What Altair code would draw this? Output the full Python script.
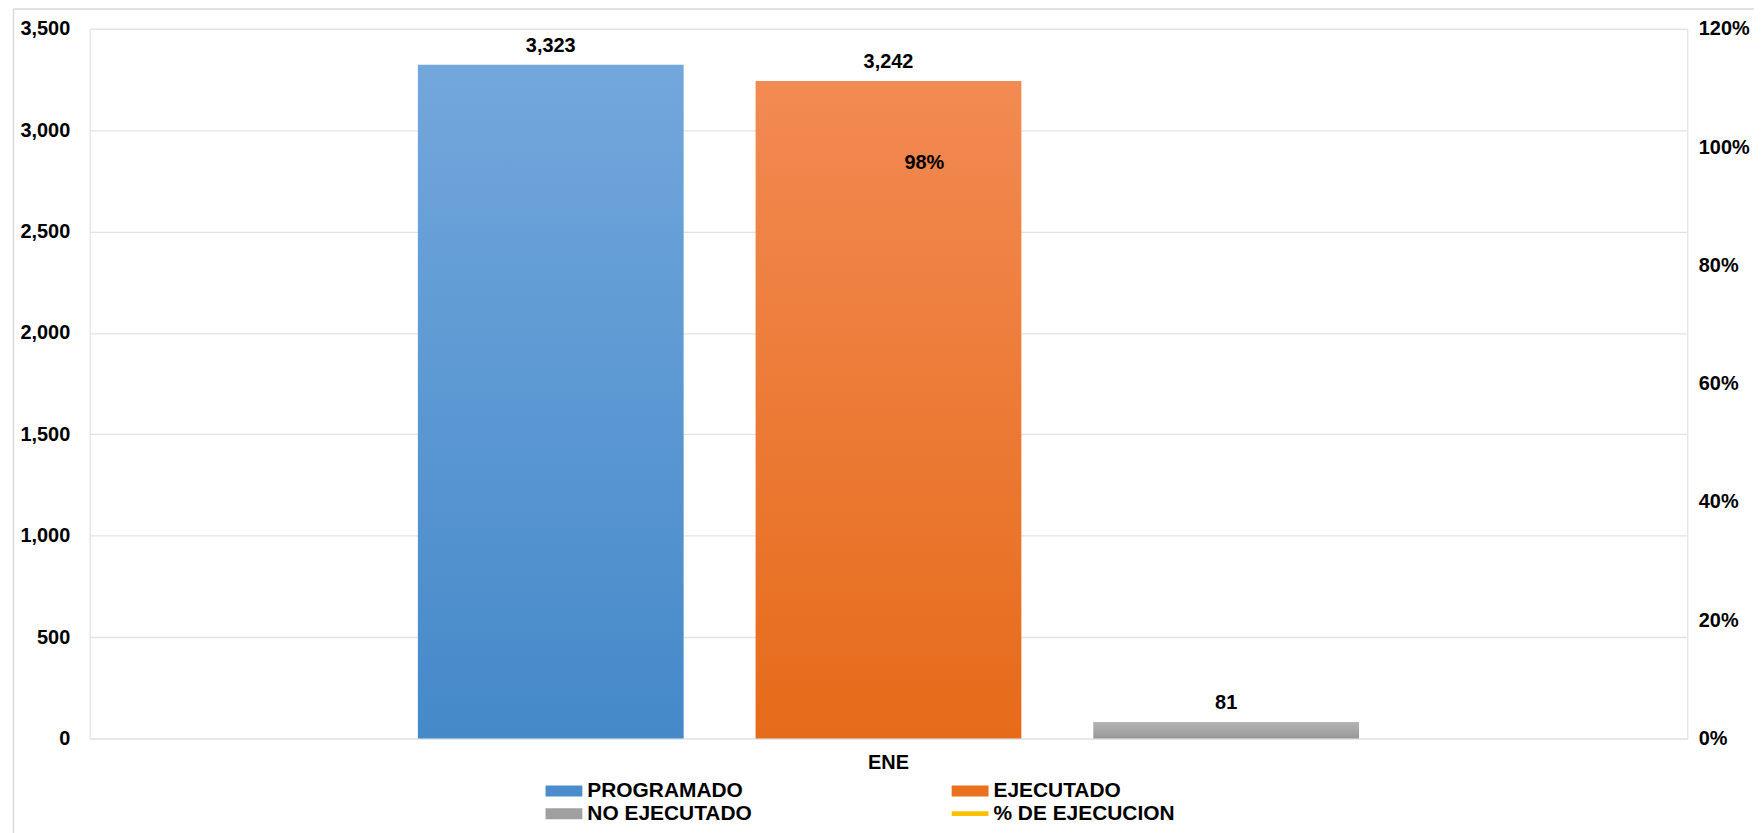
import altair as alt
import pandas as pd

# ---------------- data ----------------
meses = ["ENE"]
programado = [3323]
ejecutado = [3242]
no_ejecutado = [81]
pct_ejecucion = [0.98]

series = ["PROGRAMADO", "EJECUTADO", "NO EJECUTADO"]
legend_names = series + ["% DE EJECUCION"]
legend_colors = ["#4a8ccc", "#e8701f", "#a0a0a0", "#ffc000"]
grad_top = ["#72a7dc", "#f28a53", "#b4b4b4"]
grad_bottom = ["#4589c9", "#e66b19", "#989898"]

rows = []
for i, m in enumerate(meses):
    for s, v in zip(series, [programado[i], ejecutado[i], no_ejecutado[i]]):
        rows.append({"mes": m, "serie": s, "valor": v})
bars_df = pd.DataFrame(rows)
pct_df = pd.DataFrame({"mes": meses, "pct": pct_ejecucion})

FONT = "Liberation Sans, Arial, sans-serif"
GRID = "#dfe3e8"

x = alt.X("mes:N", title=None,
          scale=alt.Scale(paddingInner=0, paddingOuter=0),
          axis=alt.Axis(domain=False, ticks=False, labelPadding=14, labelAngle=0,
                        labelFont=FONT, labelFontSize=20, labelFontWeight="bold",
                        labelColor="black"))
xo = alt.XOffset("serie:N",
                 scale=alt.Scale(domain=series, paddingInner=0.213, paddingOuter=0.972))
y = alt.Y("valor:Q", title=None,
          scale=alt.Scale(domain=[0, 3500], nice=False),
          axis=alt.Axis(values=list(range(0, 3501, 500)), format=",.0f",
                        domain=False, ticks=False, grid=True, gridColor=GRID,
                        gridWidth=1.3, labelPadding=20, labelFont=FONT,
                        labelFontSize=20, labelFontWeight="bold", labelColor="black"))

color_scale = alt.Scale(domain=legend_names, range=legend_colors)

overlays = []
for s, t, b in zip(series, grad_top, grad_bottom):
    g = alt.Gradient(gradient="linear", x1=0, y1=0, x2=0, y2=1,
                     stops=[alt.GradientStop(offset=0, color=t),
                            alt.GradientStop(offset=1, color=b)])
    overlays.append(
        alt.Chart(bars_df).transform_filter(alt.datum.serie == s)
        .mark_bar(fill=g).encode(x=x, xOffset=xo, y=y)
    )

bar_labels = alt.Chart(bars_df).mark_text(
    baseline="alphabetic", dy=-13, font=FONT, fontSize=20, fontWeight="bold", color="black"
).encode(x=x, xOffset=xo, y=y, text=alt.Text("valor:Q", format=",.0f"))

rect_path = "M-2,-0.6H2V0.6H-2Z"
line_path = "M-2,-0.26H2V0.26H-2Z"
legend = alt.Legend(title=None, orient="none", legendX=466, legendY=755,
                    direction="horizontal", columns=2, columnPadding=200,
                    rowPadding=1, symbolSize=342, labelOffset=13,
                    symbolStrokeWidth=0, padding=0, labelLimit=0,
                    labelFont=FONT, labelFontSize=21, labelFontWeight="bold",
                    labelColor="black")
legend_layer = alt.Chart(bars_df).mark_point(filled=True, size=0, opacity=1).encode(
    x=x, y=y,
    color=alt.Color("serie:N", scale=color_scale, legend=legend),
    shape=alt.Shape("serie:N",
                    scale=alt.Scale(domain=legend_names,
                                    range=[rect_path, rect_path, rect_path, line_path]),
                    legend=legend),
)

border_df = pd.DataFrame({"k": [0]})
border_left = alt.Chart(border_df).mark_rule(color="#d9d9d9", strokeWidth=1.5).encode(
    x=alt.value(-76.5), y=alt.value(-20), y2=alt.value(820))
border_top = alt.Chart(border_df).mark_rule(color="#d9d9d9", strokeWidth=1.5).encode(
    x=alt.value(-76.5), x2=alt.value(1690), y=alt.value(-20))

left = alt.layer(*overlays, bar_labels, legend_layer, border_left, border_top)

y2 = alt.Y("pct:Q", title=None,
           scale=alt.Scale(domain=[0, 1.2], nice=False),
           axis=alt.Axis(orient="right", values=[0, 0.2, 0.4, 0.6, 0.8, 1.0, 1.2],
                         format=".0%", domain=False, ticks=False, grid=False,
                         labelPadding=11, labelFont=FONT, labelFontSize=20,
                         labelFontWeight="bold", labelColor="black"))
pct_line = alt.Chart(pct_df).mark_line(color="#ffc000", strokeWidth=4).encode(x=x, y=y2)
pct_text = alt.Chart(pct_df).mark_text(
    align="left", baseline="middle", dx=16, dy=4, font=FONT, fontSize=20,
    fontWeight="bold", color="black"
).encode(x=x, y=y2, text=alt.Text("pct:Q", format=".0%"))
right = alt.layer(pct_line, pct_text)

chart = alt.layer(left, right).resolve_scale(y="independent").properties(
    width=1605, height=713,
    autosize=alt.AutoSizeParams(type="none"),
    padding={"left": 82, "top": 19, "right": 67, "bottom": 93},
).configure_view(stroke=None).configure(background="white")

chart.save("out.html", embed_options={"renderer": "svg", "actions": False})
